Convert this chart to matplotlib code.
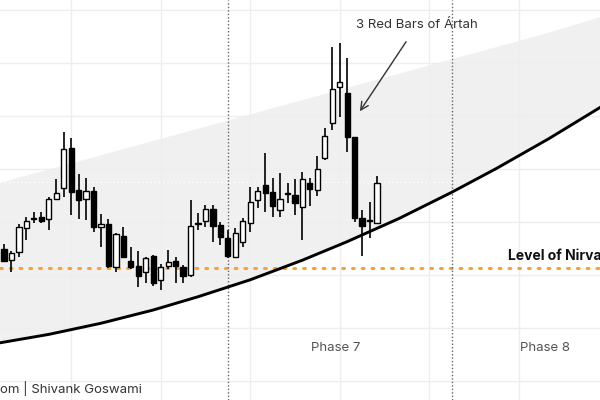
import numpy as np
import matplotlib
matplotlib.use("Agg")
import matplotlib.pyplot as plt

plt.rcParams['font.family'] = ['Inter', 'DejaVu Sans']

# candles (open, high, low, close), one per bar
opens = [124.9, 122.8, 124.3, 128.9, 130.5, 130.9, 130.6, 134.3, 136.4, 144.0,
         136.0, 134.3, 135.8, 129.1, 129.6, 121.5, 127.4, 122.6, 121.7, 120.6,
         123.6, 119.1, 121.7, 122.6, 121.5, 120.0, 129.7, 130.2, 132.5, 129.4,
         127.0, 123.4, 126.2, 129.8, 134.2, 137.0, 135.7, 132.3, 135.2, 135.1,
         132.8, 137.4, 136.0, 142.1, 148.7, 155.5, 154.3, 146.0, 130.8, 130.1,
         129.8]
highs = [125.8, 124.5, 129.6, 130.9, 131.9, 131.9, 134.7, 138.1, 147.0, 145.8,
         139.1, 138.3, 136.6, 131.5, 130.6, 127.9, 129.1, 125.3, 124.5, 123.4,
         123.8, 122.1, 124.7, 123.4, 121.9, 134.2, 131.7, 133.2, 133.2, 130.0,
         128.5, 128.9, 130.8, 136.6, 136.6, 143.0, 138.3, 139.2, 137.4, 138.1,
         139.4, 138.3, 142.5, 147.7, 163.0, 163.8, 160.9, 146.0, 132.3, 133.8,
         138.7]
lows = [122.5, 120.6, 123.4, 126.6, 129.8, 129.8, 128.5, 134.2, 134.7, 131.3,
        130.6, 130.4, 128.1, 125.3, 121.3, 120.6, 123.2, 121.1, 117.7, 118.5,
        117.9, 117.2, 121.1, 118.5, 118.5, 119.6, 128.5, 129.1, 126.2, 125.7,
        123.2, 123.2, 125.3, 128.1, 132.6, 131.9, 130.9, 130.9, 133.6, 131.3,
        126.6, 133.0, 134.9, 141.7, 147.4, 149.8, 143.2, 130.0, 123.6, 127.0,
        129.8]
closes = [122.6, 124.2, 129.1, 130.2, 130.7, 130.2, 134.3, 135.5, 143.8, 135.7,
          134.2, 135.8, 129.1, 129.6, 121.7, 127.7, 123.4, 121.5, 119.8, 123.2,
          118.5, 121.5, 122.5, 121.7, 119.8, 129.2, 129.9, 132.5, 129.2, 127.2,
          123.6, 127.9, 130.2, 133.8, 135.8, 135.5, 133.0, 134.3, 135.4, 133.6,
          138.1, 136.2, 140.0, 146.2, 155.1, 156.4, 146.0, 130.8, 129.2, 130.3,
          137.4]

# support curve and top of the channel
curve_x = [-1, 6, 13, 20, 26, 33, 40, 46, 53, 60, 66, 73, 80]
curve_y = [107.1, 108.8, 110.9, 113.4, 115.9, 119.1, 122.8, 126.3, 130.7,
           135.6, 140.1, 145.7, 151.7]
upper_y = [137.2, 139.9, 142.6, 145.3, 147.6, 150.3, 153.0, 155.3, 158.0,
           160.7, 163.0, 165.7, 168.7]

nirvana_level = 121.3
white_level = 137.5
phase_lines = [30, 60]
phase_labels = ["Phase 7", "Phase 8"]
phase_label_x = [44.5, 72.5]

fig = plt.figure(figsize=(6, 4), dpi=100)
ax = fig.add_axes([0, 0, 1, 1])

ax.fill_between(curve_x, curve_y, upper_y, color='#f0f0f0', lw=0, zorder=0.2)
ax.plot(curve_x, curve_y, color='black', lw=2.1, zorder=3)

ax.axhline(white_level, color='white', lw=1, ls=(0, (1, 2)), zorder=0.4)
ax.axhline(nirvana_level, color='#f5a23a', lw=2.2, ls=(0, (0.6, 2.6)),
           dash_capstyle='round', zorder=2)
for px in phase_lines:
    ax.axvline(px, color='#666666', lw=1, ls=(0, (1, 1.5)), zorder=2)

idx = np.arange(len(opens))
o = np.array(opens)
c = np.array(closes)
up = c >= o
ax.vlines(idx, lows, highs, color='black', lw=1.2, zorder=4)
body_h = np.maximum(np.abs(c - o), 0.15)
ax.bar(idx, body_h, bottom=np.minimum(o, c), width=0.7,
       color=np.where(up, 'white', 'black'), edgecolor='black', lw=1, zorder=5)

ax.set_xlim(-0.54, 79.89)
ax.set_ylim(96.42, 171.89)
ax.set_xticks([9, 21, 33, 45, 57, 69])
ax.set_yticks(np.arange(100, 171, 10))
ax.grid(True, color='#eeeeee', lw=1)
ax.set_axisbelow(True)
ax.tick_params(length=0, labelbottom=False, labelleft=False)
for s in ax.spines.values():
    s.set_visible(False)

ax.annotate("3 Red Bars of Ártah", xy=(47.7, 150.9), xytext=(55.4, 167.2),
            ha='center', va='center', fontsize=9.5, color='#333333',
            arrowprops=dict(arrowstyle='->', color='#333333', lw=1,
                            mutation_scale=14, shrinkA=7, shrinkB=0))
ax.text(67.6, 123.6, "Level of Nirvana", fontsize=10, fontweight='bold',
        color='#111111', va='center', ha='left')
for lx, lab in zip(phase_label_x, phase_labels):
    ax.text(lx, 106.2, lab, fontsize=9.5, color='#555555', ha='center', va='center')
ax.text(-0.54, 98.5, "om | Shivank Goswami", fontsize=9.5, color='#333333',
        ha='left', va='center')

fig.savefig("out.png", dpi=100)
